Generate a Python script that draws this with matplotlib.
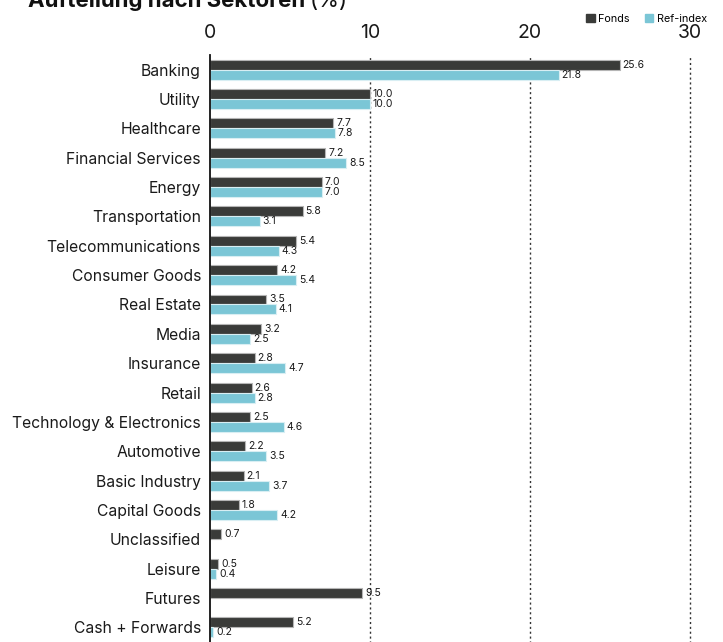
import matplotlib
matplotlib.use("Agg")
import matplotlib.pyplot as plt
import numpy as np
from matplotlib.patches import Patch

plt.rcParams["font.family"] = ["Inter", "DejaVu Sans"]

sectors = [
    "Banking", "Utility", "Healthcare", "Financial Services", "Energy",
    "Transportation", "Telecommunications", "Consumer Goods", "Real Estate",
    "Media", "Insurance", "Retail", "Technology & Electronics", "Automotive",
    "Basic Industry", "Capital Goods", "Unclassified", "Leisure", "Futures",
    "Cash + Forwards",
]
fonds = [25.6, 10.0, 7.7, 7.2, 7.0, 5.8, 5.4, 4.2, 3.5, 3.2, 2.8, 2.6, 2.5,
         2.2, 2.1, 1.8, 0.7, 0.5, 9.5, 5.2]
ref_index = [21.8, 10.0, 7.8, 8.5, 7.0, 3.1, 4.3, 5.4, 4.1, 2.5, 4.7, 2.8, 4.6,
             3.5, 3.7, 4.2, None, 0.4, None, 0.2]
x_ticks = [0, 10, 20, 30]

c_fonds = "#3a3b39"
c_ref = "#7bc6d6"
c_text = "#1a1a1a"

W, H = 723, 642
fig = plt.figure(figsize=(W / 100, H / 100), dpi=100)
ax = fig.add_axes([210 / W, -3 / H, 1 - 210 / W, (642 - 55 + 3) / H])

y = np.arange(len(sectors))
bh = 0.34
for i, (f, r) in enumerate(zip(fonds, ref_index)):
    ax.barh(i - bh / 2, f, height=bh, color=c_fonds, edgecolor="#b5b5b5",
            linewidth=0.8, zorder=3)
    ax.text(f + 0.18, i - bh / 2, f"{f:.1f}", va="center", ha="left",
            fontsize=7.5, color=c_text, zorder=4)
    if r is not None:
        ax.barh(i + bh / 2, r, height=bh, color=c_ref, edgecolor="#d8eef3",
                linewidth=0.8, zorder=3)
        ax.text(r + 0.18, i + bh / 2, f"{r:.1f}", va="center", ha="left",
                fontsize=7.5, color=c_text, zorder=4)

ax.set_xlim(0, (W - 210) / 16)
ax.set_ylim(len(sectors) - 0.5 + 3 / 29.5, -0.5)
ax.set_yticks(y)
ax.set_yticklabels(sectors, fontsize=11.3, color=c_text)
ax.set_xticks(x_ticks)
ax.set_xticklabels([str(t) for t in x_ticks], fontsize=14, color=c_text)
ax.xaxis.tick_top()
ax.tick_params(axis="x", length=0, pad=9)
ax.tick_params(axis="y", length=0, pad=6.5)

for t in x_ticks[1:]:
    ax.axvline(t, color="#333333", linestyle=(0, (1.5, 2)), linewidth=1,
               zorder=1)

for s in ["top", "right", "bottom"]:
    ax.spines[s].set_visible(False)
ax.spines["left"].set_color("#111111")
ax.spines["left"].set_linewidth(1.3)
ax.spines["left"].set_zorder(5)

handles = [Patch(color=c_fonds, label="Fonds"), Patch(color=c_ref, label="Ref-index")]
fig.legend(handles=handles, loc="center right", bbox_to_anchor=(1 - 12 / W, 1 - 19 / H),
           ncol=2, frameon=False, fontsize=7.8, handlelength=0.8,
           handleheight=0.8, handletextpad=0.3, columnspacing=1.4,
           borderaxespad=0.0)

t1 = fig.text(28 / W, 1 - 7 / H, "Aufteilung nach Sektoren", fontsize=16,
              fontweight="bold", color="#111111", va="baseline", ha="left")
fig.canvas.draw()
bb = t1.get_window_extent()
fig.text(bb.x1 / W + 4 / W, 1 - 7 / H, "(%)", fontsize=16, color="#111111",
         va="baseline", ha="left")

fig.savefig("out.png", dpi=100)
